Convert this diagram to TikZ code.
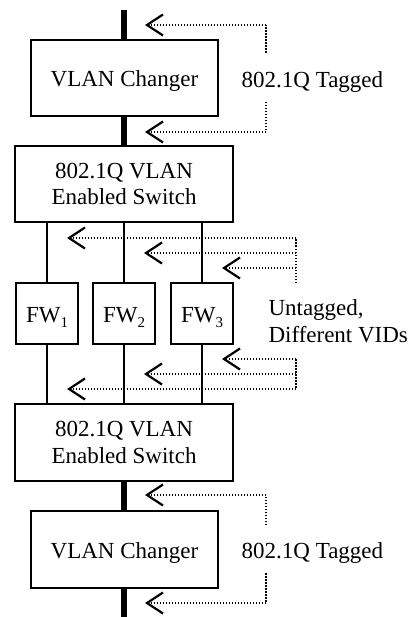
\documentclass[tikz,border=0pt]{standalone}
\usepackage{fontspec}
\setmainfont{Liberation Serif}
\usetikzlibrary{arrows.meta}
\newcommand{\fwsub}[1]{\raisebox{-4.5pt}{\fontsize{15}{15}\selectfont #1}}
\tikzset{
  x=1pt, y=-1pt,
  every node/.style={font=\fontsize{23}{26.5}\selectfont, inner sep=0pt},
  box/.style={draw, line width=1.8pt, text height=20pt, text depth=2pt},
  tallbox/.style={draw, line width=1.8pt, align=center},
  trunk/.style={line width=6pt},
  link/.style={line width=1.8pt},
  flow/.style={line width=2pt, dash pattern=on 1.5pt off 1.5pt,
    -{Straight Barb[length=16pt, width=21pt, line width=2.2pt]}},
  guide/.style={line width=2pt, dash pattern=on 1.5pt off 1.5pt},
  caption/.style={anchor=base west, align=left}
}
\begin{document}
\begin{tikzpicture}
\useasboundingbox (0,0) rectangle (412,617);

% main chain of devices
\node[box, minimum width=187pt, minimum height=76pt] (chg1) at (124.5,78) {VLAN Changer};
\node[tallbox, minimum width=218pt, minimum height=76pt] (sw1) at (124,184) {802.1Q VLAN\\Enabled Switch};
\node[box, minimum width=62pt, minimum height=61pt] (fw1) at (47,313.5) {FW\fwsub{1}};
\node[box, minimum width=62pt, minimum height=61pt] (fw2) at (124,313.5) {FW\fwsub{2}};
\node[box, minimum width=62pt, minimum height=61pt] (fw3) at (202,313.5) {FW\fwsub{3}};
\node[tallbox, minimum width=218pt, minimum height=77pt] (sw2) at (124,442.5) {802.1Q VLAN\\Enabled Switch};
\node[box, minimum width=187pt, minimum height=77pt] (chg2) at (124.5,549.5) {VLAN Changer};

% trunk ends
\coordinate (top) at (124,10);
\coordinate (bottom) at (124,617);

% thick trunk links
\draw[trunk] (top) -- (top |- chg1.north);
\draw[trunk] (chg1.south -| top) -- (sw1.north -| top);
\draw[trunk] (sw2.south -| top) -- (chg2.north -| top);
\draw[trunk] (chg2.south -| top) -- (bottom);

% firewall links
\foreach \f in {fw1,fw2,fw3}{
  \draw[link] (\f.north |- sw1.south) -- (\f.north);
  \draw[link] (\f.south) -- (\f.south |- sw2.north);
}

% labels
\node[caption] (tag1) at (241.5,87.3) {802.1Q Tagged};
\node[caption] (untag) at (268.3,342) {Untagged,\\Different VIDs};
\node[caption] (tag2) at (241.5,558.3) {802.1Q Tagged};

% tagged traffic markers
\coordinate (ta1) at (145,25);  \coordinate (tc1) at (266,25);  \coordinate (te1) at (266,53);
\coordinate (ta2) at (145,132); \coordinate (tc2) at (266,132); \coordinate (te2) at (266,102);
\coordinate (ta3) at (145,495); \coordinate (tc3) at (266,495); \coordinate (te3) at (266,525);
\coordinate (ta4) at (145,603); \coordinate (tc4) at (266,603); \coordinate (te4) at (266,573);
\foreach \i in {1,2,3,4}{
  \draw[guide] (te\i) -- (tc\i);
  \draw[flow] (tc\i) -- (ta\i);
}

% untagged traffic markers, upper group
\coordinate (ub) at (296,283);
\coordinate (u1) at (296,238); \coordinate (v1) at (67,238);
\coordinate (u2) at (296,253); \coordinate (v2) at (144,253);
\coordinate (u3) at (296,268); \coordinate (v3) at (222,268);
\draw[guide] (ub) -- (u1);
\foreach \i in {1,2,3}{ \draw[flow] (u\i) -- (v\i); }

% untagged traffic markers, lower group
\coordinate (w1) at (296,359); \coordinate (x1) at (222,359);
\coordinate (w2) at (296,374); \coordinate (x2) at (144,374);
\coordinate (w3) at (296,389); \coordinate (x3) at (67,389);
\draw[guide] (w1) -- (w3);
\foreach \i in {1,2,3}{ \draw[flow] (w\i) -- (x\i); }
\end{tikzpicture}
\end{document}
